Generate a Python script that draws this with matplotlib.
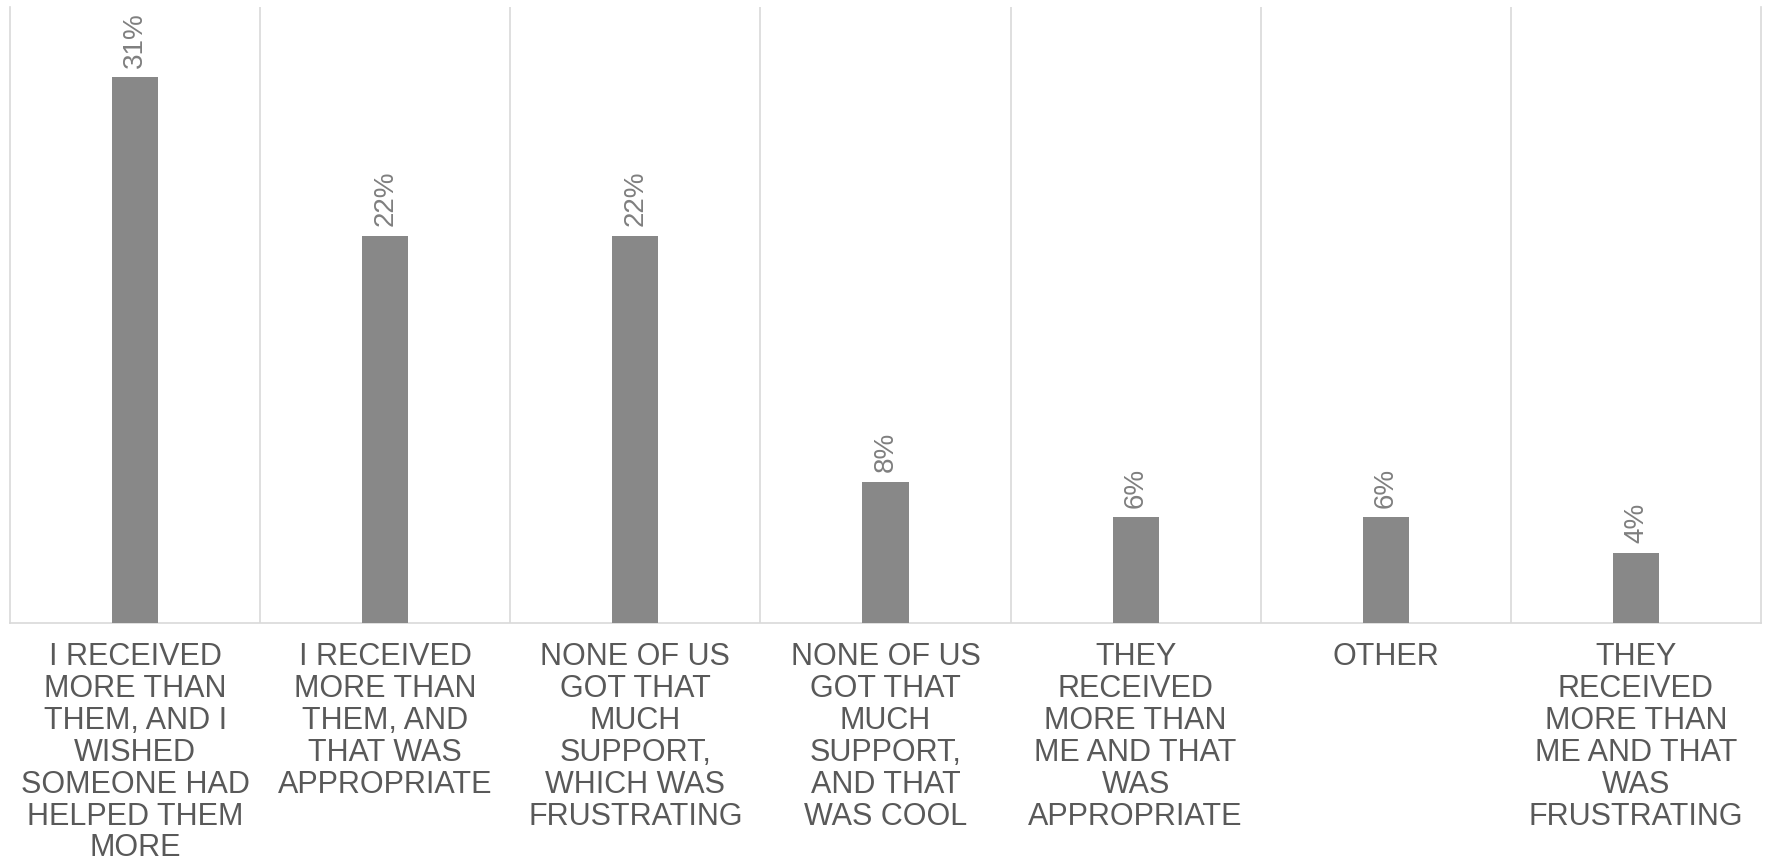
import matplotlib
matplotlib.use("Agg")
from matplotlib import pyplot as plt

categories = [
    "I RECEIVED\nMORE THAN\nTHEM, AND I\nWISHED\nSOMEONE HAD\nHELPED THEM\nMORE",
    "I RECEIVED\nMORE THAN\nTHEM, AND\nTHAT WAS\nAPPROPRIATE",
    "NONE OF US\nGOT THAT\nMUCH\nSUPPORT,\nWHICH WAS\nFRUSTRATING",
    "NONE OF US\nGOT THAT\nMUCH\nSUPPORT,\nAND THAT\nWAS COOL",
    "THEY\nRECEIVED\nMORE THAN\nME AND THAT\nWAS\nAPPROPRIATE",
    "OTHER",
    "THEY\nRECEIVED\nMORE THAN\nME AND THAT\nWAS\nFRUSTRATING",
]
shares = [31, 22, 22, 8, 6, 6, 4]

plt.rcParams['font.family'] = ['Liberation Sans', 'DejaVu Sans']

fig = plt.figure(figsize=(17.68, 8.66), dpi=100)
ax = fig.add_axes([10 / 1768, 1 - 623 / 866, 1751 / 1768, 616 / 866])

x = list(range(len(categories)))
bars = ax.bar(x, shares, width=0.184, color='#888888', zorder=3)

for b, v in zip(bars, shares):
    ax.annotate("{}%".format(v), (b.get_x() + b.get_width() / 2, b.get_height()),
                xytext=(0, 7), textcoords='offset points', rotation=90,
                ha='center', va='bottom', fontsize=20, color='#7f7f7f')

ax.set_xlim(-0.5, len(categories) - 0.5)
ax.set_ylim(0, 35)
ax.set_yticks([])
ax.set_xticks(x)
ax.set_xticklabels(categories, fontsize=22, color='#595959', linespacing=1.08)
ax.tick_params(axis='x', length=0, pad=14)

# separators between categories
for i in range(len(categories) - 1):
    ax.axvline(i + 0.5, color='#d9d9d9', lw=1.2, zorder=1)

ax.spines['top'].set_visible(False)
for s in ['left', 'right', 'bottom']:
    ax.spines[s].set_color('#d9d9d9')
    ax.spines[s].set_linewidth(1.2)

fig.savefig("out.png", dpi=100)
